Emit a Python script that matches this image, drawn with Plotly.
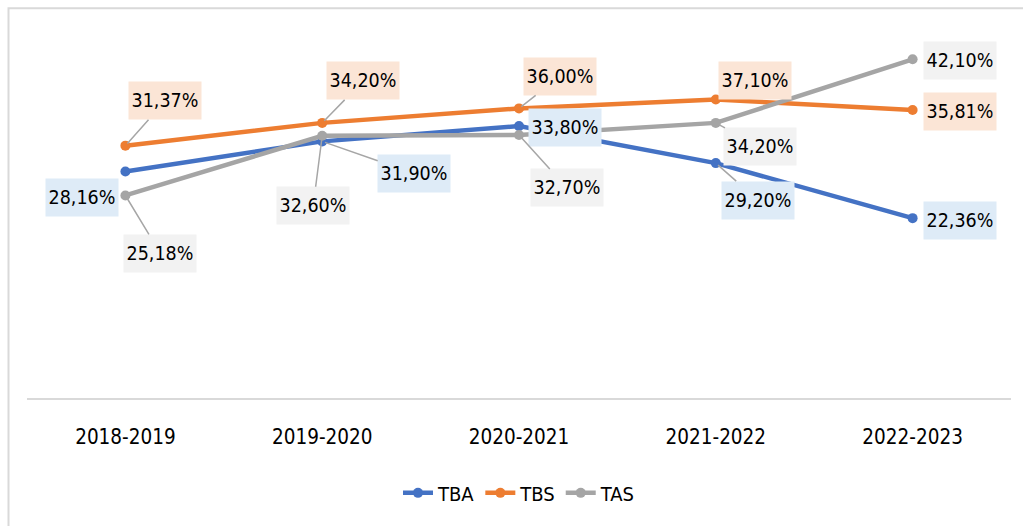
import plotly.graph_objects as go

# Academic years on the category axis
years = ["2018-2019", "2019-2020", "2020-2021", "2021-2022", "2022-2023"]

# Rates (%) per series
tba = [28.16, 31.90, 33.80, 29.20, 22.36]
tbs = [31.37, 34.20, 36.00, 37.10, 35.81]
tas = [25.18, 32.60, 32.70, 34.20, 42.10]

FONT = "DejaVu Sans Condensed, DejaVu Sans, sans-serif"
LEADER = "#A6A6A6"

series = [
    ("TBA", tba, "#4472C4", "#DEEBF7"),
    ("TBS", tbs, "#ED7D31", "#FBE5D6"),
    ("TAS", tas, "#A5A5A5", "#F2F2F2"),
]

# Label box offsets (px) from each point, and whether a leader line is drawn
offsets = {
    "TBA": [(-43, -26, False), (92, -32, True), (46, -1, False), (42, -37, True), (47, -2, False)],
    "TBS": [(40, 45, True), (41, 42, True), (41, 32, True), (39, 19, True), (47, -2, False)],
    "TAS": [(35, -58, True), (-9, -70, True), (48, -53, True), (44, -24, True), (47, -1, False)],
}

fig = go.Figure()
annotations = []
for name, vals, color, bg in series:
    fig.add_trace(go.Scatter(
        x=years, y=vals, name=name, mode="lines+markers",
        line=dict(color=color, width=4.5),
        marker=dict(color=color, size=10),
    ))
    for i, v in enumerate(vals):
        dx, dy, lead = offsets[name][i]
        txt = f"{v:.2f}%".replace(".", ",")
        a = dict(
            x=years[i], y=v, xref="x", yref="y", text=txt,
            font=dict(family=FONT, size=19.5, color="#000000"),
            bgcolor=bg, borderpad=3, width=66, height=31,
        )
        if lead:
            a.update(showarrow=True, arrowhead=0, arrowwidth=1.5,
                     arrowcolor=LEADER, ax=dx, ay=-dy, standoff=3)
        else:
            a.update(showarrow=False, xshift=dx, yshift=dy)
        annotations.append(a)

# Outer chart frame
shapes = [dict(type="rect", xref="paper", yref="paper",
               x0=-0.0188, x1=1.05, y0=-0.5, y1=1.077,
               line=dict(color="#D9D9D9", width=2), fillcolor="rgba(0,0,0,0)",
               layer="below")]

fig.update_layout(
    width=1023, height=526,
    margin=dict(l=26.5, r=11.5, t=36, b=128),
    paper_bgcolor="white", plot_bgcolor="white",
    font=dict(family=FONT, size=19.5, color="#000000"),
    xaxis=dict(showline=True, linecolor="#D9D9D9", linewidth=2,
               showgrid=False, ticks="", tickfont=dict(size=20.5),
               ticklabelstandoff=19, range=[-0.5, 4.5]),
    yaxis=dict(range=[0, 45], visible=False, showgrid=False),
    showlegend=True,
    legend=dict(orientation="h", x=0.5, xanchor="center", y=-0.262,
                yanchor="middle", font=dict(size=20), itemwidth=30),
    annotations=annotations,
    shapes=shapes,
)

fig.write_html("out.html")
